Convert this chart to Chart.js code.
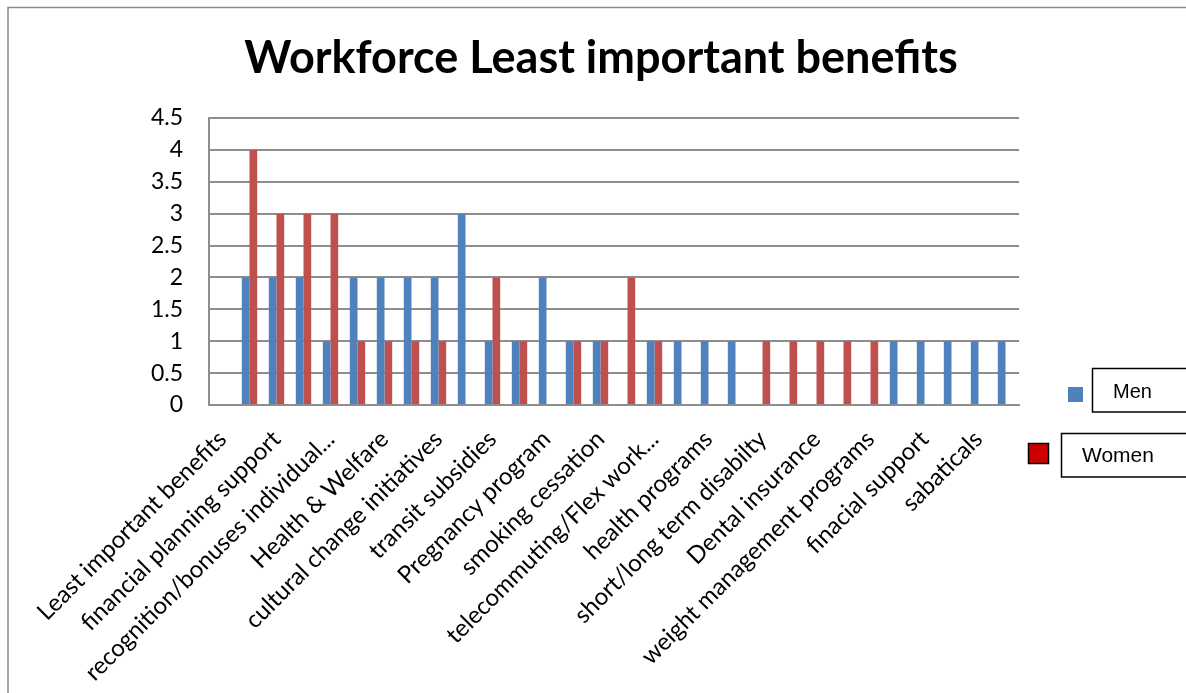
<!DOCTYPE html>
<html>
<head>
<meta charset="utf-8">
<script src="https://cdn.jsdelivr.net/npm/chart.js@4"></script>
<style>
  html, body { margin: 0; padding: 0; background: #fff; }
  canvas { display: block; }
</style>
</head>
<body>
<canvas id="chart" width="1186" height="693"></canvas>
<script>
// categories (only every other label is readable on the original axis)
var categories = [
    'Least important benefits', '', 'financial planning support', '',
    'recognition/bonuses individual...', '', 'Health & Welfare', '',
    'cultural change initiatives', '', 'transit subsidies', '',
    'Pregnancy program', '', 'smoking cessation', '',
    'telecommuting/Flex work...', '', 'health programs', '',
    'short/long term disabilty', '', 'Dental insurance', '',
    'weight management programs', '', 'finacial support', '',
    'sabaticals', ''
];
var menData   = [null, 2, 2, 2, 1, 2, 2, 2, 2, 3, 1, 1, 2, 1, 1, 0, 1, 1, 1, 1, 0, 0, 0, 0, 0, 1, 1, 1, 1, 1];
var womenData = [null, 4, 3, 3, 3, 1, 1, 1, 1, 0, 2, 1, 0, 1, 1, 2, 1, 0, 0, 0, 1, 1, 1, 1, 1, 0, 0, 0, 0, 0];
var yTicks = [0, 0.5, 1, 1.5, 2, 2.5, 3, 3.5, 4, 4.5];

var gridColor = '#8e8e8e';

// фон, рамка и легенда в виде отдельных прямоугольников
var decorPlugin = {
    id: 'decor',
    beforeDraw: function (chart) {
        var ctx = chart.ctx;
        ctx.save();
        ctx.fillStyle = '#fff';
        ctx.fillRect(0, 0, chart.width, chart.height);
        ctx.strokeStyle = '#8a8a8a';
        ctx.lineWidth = 1.5;
        ctx.beginPath();
        ctx.moveTo(8, chart.height);
        ctx.lineTo(8, 7.5);
        ctx.lineTo(chart.width, 7.5);
        ctx.stroke();
        ctx.restore();
    },
    afterDraw: function (chart) {
        var ctx = chart.ctx;
        var ds = chart.data.datasets;
        ctx.save();
        ctx.font = '20px "Liberation Sans", Arial, sans-serif';
        ctx.textBaseline = 'middle';
        ctx.lineWidth = 1.5;
        ctx.strokeStyle = '#000';

        // Men
        ctx.fillStyle = ds[0].backgroundColor;
        ctx.fillRect(1068, 387, 15, 15);
        ctx.fillStyle = '#fff';
        ctx.fillRect(1092, 368, 100, 44);
        ctx.strokeRect(1092.5, 368.5, 100, 43.5);
        ctx.fillStyle = '#000';
        ctx.fillText(ds[0].label, 1113, 392);

        // Women
        ctx.fillStyle = '#cc0000';
        ctx.fillRect(1028, 443, 21, 21);
        ctx.strokeRect(1028.5, 443.5, 20, 20);
        ctx.fillStyle = '#fff';
        ctx.fillRect(1061, 433, 130, 44);
        ctx.strokeRect(1061.5, 433.5, 130, 43.5);
        ctx.fillStyle = '#000';
        ctx.font = '21px "Liberation Sans", Arial, sans-serif';
        ctx.fillText(ds[1].label, 1082, 456);
        ctx.restore();
    }
};

var ctx = document.getElementById('chart').getContext('2d');
new Chart(ctx, {
    type: 'bar',
    data: {
        labels: categories,
        datasets: [
            { label: 'Men', data: menData, backgroundColor: '#4f81bd', categoryPercentage: 0.57, barPercentage: 1.0 },
            { label: 'Women', data: womenData, backgroundColor: '#c0504d', categoryPercentage: 0.57, barPercentage: 1.0 }
        ]
    },
    options: {
        responsive: false,
        animation: false,
        devicePixelRatio: 1,
        layout: { padding: { left: 16, right: 0, top: 0, bottom: 0 } },
        scales: {
            x: {
                grid: { display: false, drawTicks: false },
                border: { display: true, color: gridColor, width: 2 },
                ticks: {
                    autoSkip: false,
                    maxRotation: 45,
                    minRotation: 45,
                    padding: 20,
                    color: '#000',
                    font: { family: 'Lato', size: 24 }
                },
                afterFit: function (scale) { scale.height = 288; }
            },
            y: {
                min: 0,
                max: 4.5,
                afterBuildTicks: function (scale) {
                    scale.ticks = yTicks.map(function (v) { return { value: v }; });
                },
                grid: { color: gridColor, lineWidth: 2, drawTicks: false },
                border: { display: true, color: gridColor, width: 2 },
                ticks: {
                    padding: 26,
                    color: '#000',
                    font: { family: 'Lato', size: 23 },
                    callback: function (v) { return String(v); }
                },
                afterFit: function (scale) { scale.width = 193; }
            },
            // пустая ось справа — место под легенду
            yRight: {
                position: 'right',
                display: true,
                grid: { display: false, drawTicks: false },
                border: { display: false },
                ticks: { display: false },
                afterFit: function (scale) { scale.width = 167; }
            }
        },
        plugins: {
            legend: { display: false },
            tooltip: { enabled: false },
            title: {
                display: true,
                text: 'Workforce Least important benefits',
                color: '#000',
                font: { family: 'Lato', size: 45, weight: 'bold', lineHeight: 1.2 },
                padding: { top: 31, bottom: 33 }
            }
        }
    },
    plugins: [decorPlugin]
});
</script>
</body>
</html>
